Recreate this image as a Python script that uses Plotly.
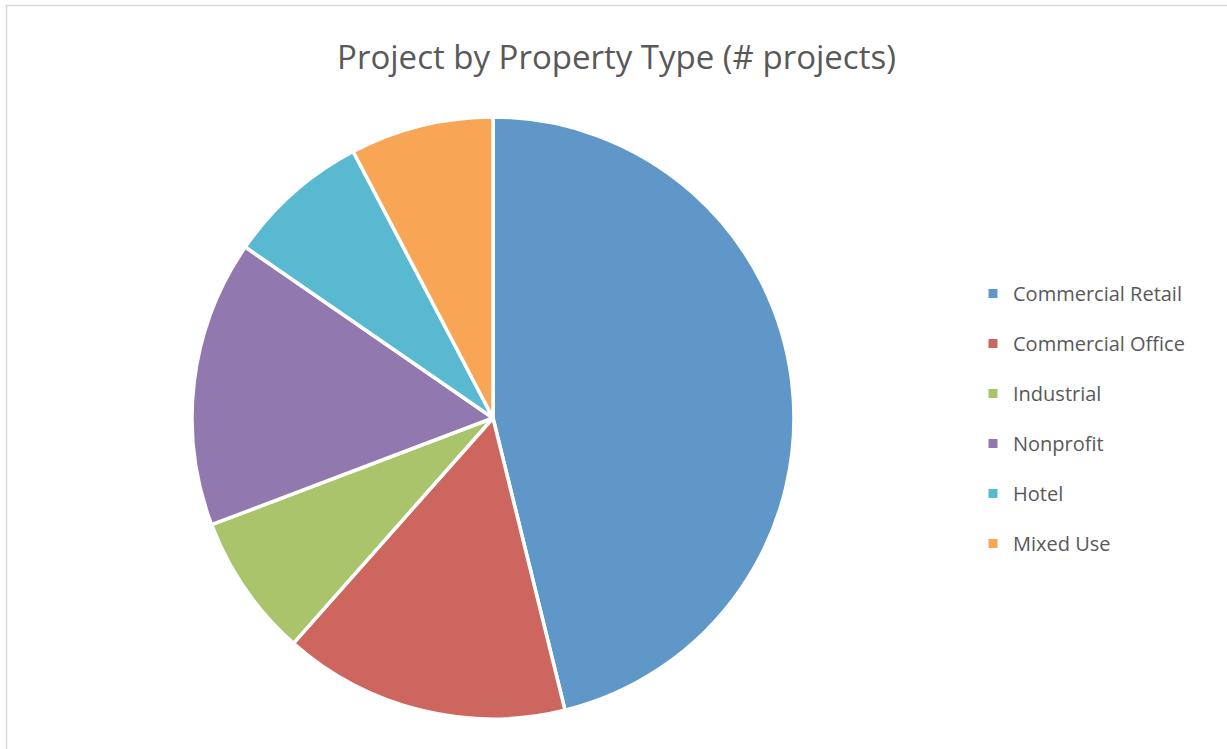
import plotly.graph_objects as go

categories = ["Commercial Retail", "Commercial Office", "Industrial", "Nonprofit", "Hotel", "Mixed Use"]
projects = [6, 2, 1, 2, 1, 1]
colors = ["#5F97C8", "#CD665E", "#A9C46A", "#9179B0", "#58B9D0", "#F8A656"]

W, H = 1227, 749
FONT = "Open Sans"
GRAY = "#595959"

fig = go.Figure()
fig.add_trace(go.Pie(
    labels=categories, values=projects, sort=False, direction="clockwise", rotation=0,
    marker=dict(colors=colors, line=dict(color="white", width=3.5)),
    textinfo="none", hoverinfo="label+value+percent", showlegend=False,
    domain=dict(x=[192 / W, 794 / W], y=[(H - 719) / H, (H - 117) / H]),
))
for cat, col in zip(categories, colors):
    fig.add_trace(go.Scatter(
        x=[None], y=[None], mode="markers", name=cat, legendgroup=cat,
        marker=dict(symbol="square", size=9, color=col), showlegend=True,
    ))

fig.update_layout(
    width=W, height=H,
    margin=dict(l=0, r=0, t=0, b=0),
    paper_bgcolor="white", plot_bgcolor="white",
    font=dict(family=FONT, color=GRAY),
    title=dict(text="Project by Property Type (# projects)", x=616.5 / W, xanchor="center",
               y=1 - 57 / H, yanchor="middle", font=dict(family=FONT, size=33, color=GRAY)),
    xaxis=dict(visible=False), yaxis=dict(visible=False),
    legend=dict(x=973 / W, xanchor="left", y=1 - 274 / H, yanchor="top",
                font=dict(family=FONT, size=20, color=GRAY), tracegroupgap=21,
                itemwidth=30, bgcolor="rgba(0,0,0,0)"),
    shapes=[dict(type="rect", xref="paper", yref="paper", x0=6.5 / W, x1=1.02, y0=-0.02, y1=1 - 5.5 / H,
                 line=dict(color="#D9D9D9", width=1.5), fillcolor="rgba(0,0,0,0)", layer="below")],
)

fig.write_html("out.html", config={"displayModeBar": False},
               post_script="document.body.style.margin='0';document.body.style.overflow='hidden';")
